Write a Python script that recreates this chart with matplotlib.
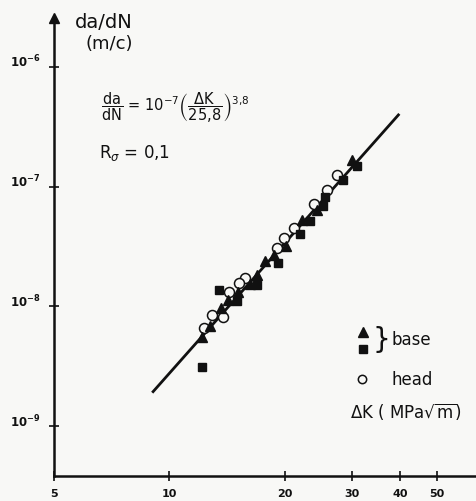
#!/usr/bin/env python3
# -*- coding: utf-8 -*-

import matplotlib
matplotlib.use("Agg")
import matplotlib.pyplot as plt
from matplotlib.transforms import ScaledTranslation


# ============================================================
# Datos
# ============================================================

# base: triangulos
dk_tri = [30.0, 24.3, 22.2, 20.1, 18.8, 17.8, 16.9, 16.2, 15.1, 14.2, 13.6, 12.8, 12.2]
dadn_tri = [1.67e-7, 6.4e-8, 5.3e-8, 3.2e-8, 2.7e-8, 2.4e-8, 1.83e-8, 1.53e-8,
            1.33e-8, 1.13e-8, 9.6e-9, 6.9e-9, 5.6e-9]

# base: cuadrados
dk_sq = [30.9, 28.4, 25.4, 25.2, 23.3, 21.9, 19.2, 16.9, 13.5, 15.0, 12.2]
dadn_sq = [1.49e-7, 1.14e-7, 8.25e-8, 6.9e-8, 5.2e-8, 4.03e-8, 2.29e-8, 1.51e-8,
           1.37e-8, 1.11e-8, 3.1e-9]

# head: circulos
dk_circ = [27.4, 25.8, 23.9, 21.2, 19.9, 19.1, 15.8, 15.2, 14.3, 12.9, 13.8, 12.35]
dadn_circ = [1.25e-7, 9.4e-8, 7.1e-8, 4.55e-8, 3.73e-8, 3.06e-8, 1.72e-8, 1.58e-8,
             1.33e-8, 8.5e-9, 8.1e-9, 6.6e-9]

# recta de Paris (extremos leidos)
dk_line = [9.07, 39.6]
dadn_line = [1.94e-9, 3.97e-7]

x_ticks = [5, 10, 20, 30, 40, 50]
x_labels = ["5", "10", "20", "30", "40", "50"]
y_ticks = [1e-9, 1e-8, 1e-7, 1e-6]
y_labels = [r"$\mathbf{10^{-9}}$", r"$\mathbf{10^{-8}}$", r"$\mathbf{10^{-7}}$", r"$\mathbf{10^{-6}}$"]


# ============================================================
# Figura
# ============================================================

W, H = 477, 501
BG = "#f8f8f6"
INK = "#111111"

plt.rcParams["mathtext.fontset"] = "dejavusans"

fig = plt.figure(figsize=(W / 100, H / 100), dpi=100, facecolor=BG)


def px(x, y):
    # pixel de la imagen -> fraccion de figura
    return x / W, 1 - y / H


ax = fig.add_axes([54 / W, (H - 476) / H, 423 / W, 458 / H])
ax.set_facecolor(BG)
ax.set_xscale("log")
ax.set_yscale("log")
ax.set_xlim(5, 63.5)
ax.set_ylim(3.83e-10, 2.56e-6)

for side in ["top", "right"]:
    ax.spines[side].set_visible(False)
for side in ["left", "bottom"]:
    ax.spines[side].set_linewidth(1.8)
    ax.spines[side].set_color(INK)

ax.minorticks_off()
ax.set_xticks(x_ticks)
ax.set_xticklabels(x_labels, fontsize=8, fontweight="bold")
ax.set_yticks(y_ticks)
ax.set_yticklabels(y_labels, fontsize=8.5)
ax.tick_params(axis="both", direction="inout", length=7, width=1.2, colors=INK)
ax.tick_params(axis="x", pad=6)
ax.tick_params(axis="y", pad=6)

# etiquetas del eje y un poco por encima del tick
for lab in ax.get_yticklabels():
    lab.set_transform(lab.get_transform() + ScaledTranslation(0, 0.06, fig.dpi_scale_trans))

# flecha del eje y
ax.plot(0, 1, marker="^", color=INK, ms=7, transform=ax.transAxes, clip_on=False)

# recta y puntos
ax.plot(dk_line, dadn_line, color=INK, lw=2, zorder=2)
ax.plot(dk_circ, dadn_circ, "o", ms=7.2, mfc=BG, mec=INK, mew=1.1, ls="none", zorder=3)
ax.plot(dk_sq, dadn_sq, "s", ms=5.5, color=INK, ls="none", zorder=4)
ax.plot(dk_tri, dadn_tri, "^", ms=6.5, color=INK, ls="none", zorder=4)

# textos
fig.text(*px(75, 23), "da/dN", fontsize=14, color=INK, va="center")
fig.text(*px(86, 44), "(m/c)", fontsize=13, color=INK, va="center")
fig.text(*px(101, 108),
         r"$\dfrac{\mathrm{da}}{\mathrm{dN}}$ = 10$^{-7}\left(\dfrac{\Delta \mathrm{K}}{25{,}8}\right)^{3{,}8}$",
         fontsize=10.5, color=INK, va="center")
fig.text(*px(99, 153), r"R$_{\sigma}$ = 0,1", fontsize=12, color=INK, va="center")
fig.text(*px(350, 412), r"$\Delta$K ( MPa$\sqrt{\mathrm{m}}$)", fontsize=12, color=INK, va="center")

# leyenda dibujada a mano
ax.plot(*px(363, 332), marker="^", ms=6.5, color=INK, transform=fig.transFigure, clip_on=False)
ax.plot(*px(363, 349), marker="s", ms=5.5, color=INK, transform=fig.transFigure, clip_on=False)
ax.plot(*px(362, 379), marker="o", ms=6, mfc=BG, mec=INK, mew=1.1,
        transform=fig.transFigure, clip_on=False)
fig.text(*px(372, 340), "}", fontsize=20, color=INK, va="center")
fig.text(*px(392, 340), "base", fontsize=12, color=INK, va="center")
fig.text(*px(392, 380), "head", fontsize=12, color=INK, va="center")

fig.savefig("out.png", dpi=100, facecolor=BG)
